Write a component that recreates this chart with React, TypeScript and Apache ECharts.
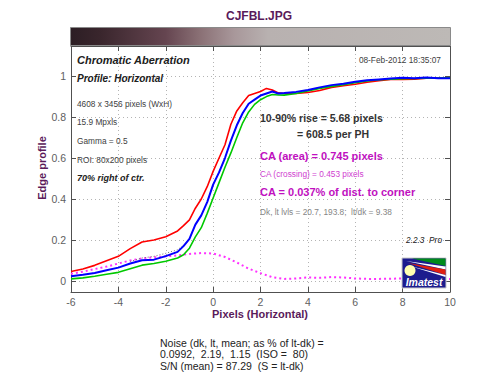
import React, { useEffect, useRef } from 'react';
import * as echarts from 'echarts';

const xVals = [-6, -5.5, -5, -4.5, -4, -3.5, -3, -2.5, -2, -1.5, -1.25, -1, -0.75, -0.5, -0.25, 0, 0.25, 0.5, 0.75, 1, 1.25, 1.5, 1.75, 2, 2.25, 2.5, 2.75, 3, 3.5, 4, 4.5, 5, 5.5, 6, 6.5, 7, 7.5, 8, 8.5, 9, 9.5, 10];
const redVals = [0.046, 0.058, 0.076, 0.098, 0.12, 0.158, 0.19, 0.2, 0.216, 0.244, 0.27, 0.298, 0.355, 0.4, 0.46, 0.535, 0.6, 0.665, 0.765, 0.83, 0.87, 0.905, 0.915, 0.925, 0.94, 0.932, 0.918, 0.915, 0.915, 0.92, 0.93, 0.945, 0.953, 0.96, 0.97, 0.978, 0.984, 0.984, 0.985, 0.99, 0.99, 0.99];
const blueVals = [0.023, 0.03, 0.039, 0.052, 0.065, 0.085, 0.101, 0.104, 0.121, 0.142, 0.17, 0.205, 0.275, 0.32, 0.385, 0.47, 0.53, 0.6, 0.685, 0.76, 0.82, 0.865, 0.885, 0.905, 0.915, 0.925, 0.915, 0.917, 0.923, 0.932, 0.945, 0.956, 0.963, 0.972, 0.98, 0.984, 0.988, 0.992, 0.99, 0.993, 0.99, 0.99];
const greenVals = [0.01, 0.015, 0.023, 0.033, 0.042, 0.06, 0.077, 0.085, 0.096, 0.112, 0.128, 0.16, 0.215, 0.26, 0.33, 0.405, 0.48, 0.555, 0.625, 0.7, 0.772, 0.825, 0.862, 0.885, 0.9, 0.91, 0.908, 0.907, 0.915, 0.928, 0.94, 0.95, 0.958, 0.968, 0.976, 0.982, 0.985, 0.987, 0.988, 0.99, 0.99, 0.992];
const magentaX = [-6, -5.5, -5, -4.5, -4, -3.5, -3, -2.5, -2, -1.5, -1, -0.5, 0, 0.5, 1, 1.5, 2, 2.5, 3, 3.5, 4, 4.5, 5, 5.5, 6, 6.5, 7, 7.5, 8, 8.5, 9, 9.5, 10];
const magentaVals = [0.035, 0.045, 0.058, 0.07, 0.085, 0.1, 0.11, 0.115, 0.12, 0.125, 0.132, 0.136, 0.134, 0.117, 0.09, 0.06, 0.038, 0.018, 0.01, 0.012, 0.017, 0.015, 0.019, 0.017, 0.012, 0.01, 0.01, 0.011, 0.012, 0.011, 0.01, 0.01, 0.01];
const greyX = [-3.5, -3, -2.5, -2, -1.5, -1.25];
const greyVals = [0.095, 0.112, 0.12, 0.135, 0.152, 0.175];
const yTicks = [0, 0.2, 0.4, 0.6, 0.8, 1];

const FONT = 'Liberation Sans';
const PURPLE = '#5a1a5a';
const MAG = '#c010c0';

function pairs(xs: number[], ys: number[]) {
  return xs.map((x, i) => [x, ys[i]]);
}

export default function App() {
  const ref = useRef<HTMLDivElement>(null);
  useEffect(() => {
    const chart = echarts.init(ref.current!, null, { renderer: 'svg' });
    const txt = (x: number, y: number, text: string, o: any = {}, z = 100) => ({
      type: 'text', x, y, z,
      style: { text, fontFamily: FONT, fontSize: 8.3, fill: '#404040', verticalAlign: 'middle', ...o },
    });
    const axisCommon = {
      axisLine: { show: true, onZero: false, lineStyle: { color: '#505050', width: 1 } },
      axisTick: { show: true, inside: true, length: 5, lineStyle: { color: '#505050' } },
    };
    chart.setOption({
      animation: false,
      grid: { left: 71, right: 50, top: 46, bottom: 92, containLabel: false },
      xAxis: [
        {
          type: 'value', min: -6, max: 10, interval: 2, position: 'bottom',
          ...axisCommon,
          axisLabel: { color: '#606060', fontSize: 10.5, fontFamily: FONT, margin: 4 },
          splitLine: { show: true, lineStyle: { color: '#b4b4b4', type: [1, 3], width: 1 } },
        },
        {
          type: 'value', min: -6, max: 10, interval: 2, position: 'top',
          ...axisCommon,
          axisLabel: { show: false }, splitLine: { show: false },
        },
      ],
      yAxis: [
        {
          type: 'value', min: -0.054, max: 1.147, position: 'left',
          ...axisCommon,
          axisTick: { ...axisCommon.axisTick, customValues: yTicks },
          axisLabel: { color: '#606060', fontSize: 10.5, fontFamily: FONT, margin: 5, customValues: yTicks, formatter: (v: number) => String(v) },
          splitLine: { show: true, lineStyle: { color: '#b4b4b4', type: [1, 3], width: 1 } },
        },
        {
          type: 'value', min: -0.054, max: 1.147, position: 'right',
          ...axisCommon,
          axisTick: { ...axisCommon.axisTick, customValues: yTicks },
          axisLabel: { show: false, customValues: yTicks }, splitLine: { show: false },
        },
      ],
      series: [
        { type: 'line', data: pairs(magentaX, magentaVals), showSymbol: false, lineStyle: { color: '#ff30ff', width: 2, type: [2, 3] }, z: 2 },
        { type: 'line', data: pairs(greyX, greyVals), showSymbol: false, lineStyle: { color: '#707070', width: 1, type: [1, 2] }, z: 2 },
        { type: 'line', data: pairs(xVals, redVals), showSymbol: false, lineStyle: { color: '#ff0000', width: 1.6 }, z: 3 },
        { type: 'line', data: pairs(xVals, greenVals), showSymbol: false, lineStyle: { color: '#00c800', width: 1.6 }, z: 3 },
        { type: 'line', data: pairs(xVals, blueVals), showSymbol: false, lineStyle: { color: '#0000ff', width: 2 }, z: 4 },
      ],
      graphic: [
        txt(259, 15.5, 'CJFBL.JPG', { fill: PURPLE, fontSize: 12, fontWeight: 'bold', align: 'center' }),
        {
          type: 'rect', z: 100,
          shape: { x: 70.5, y: 27.5, width: 380, height: 18 },
          style: {
            stroke: '#8a8a8a', lineWidth: 1,
            fill: new echarts.graphic.LinearGradient(0, 0, 1, 0, [
              { offset: 0, color: '#2c1e24' },
              { offset: 0.08, color: '#3a262d' },
              { offset: 0.25, color: '#654550' },
              { offset: 0.34, color: '#8a7075' },
              { offset: 0.43, color: '#a8979a' },
              { offset: 0.52, color: '#b8b1b0' },
              { offset: 1, color: '#bdb9b6' },
            ]),
          },
        },
        {
          type: 'text', x: 42, y: 168, rotation: Math.PI / 2, z: 100,
          style: { text: 'Edge profile', fontFamily: FONT, fontSize: 11, fontWeight: 'bold', fill: PURPLE, align: 'center', verticalAlign: 'middle' },
        },
        txt(260, 314, 'Pixels (Horizontal)', { fill: PURPLE, fontSize: 11, fontWeight: 'bold', align: 'center' }),
        txt(77, 60, 'Chromatic Aberration', { fill: '#202020', fontSize: 11, fontWeight: 'bold', fontStyle: 'italic' }),
        txt(441, 60, '08-Feb-2012 18:35:07', { fill: '#404040', align: 'right' }),
        txt(77, 78, 'Profile: Horizontal', { fill: '#202020', fontSize: 10, fontWeight: 'bold', fontStyle: 'italic' }),
        txt(77, 104, '4608 x 3456 pixels (WxH)'),
        txt(77, 122, '15.9 Mpxls'),
        txt(77, 141, 'Gamma = 0.5'),
        txt(77, 160, 'ROI: 80x200 pixels'),
        txt(77, 177.5, '70% right of ctr.', { fill: '#202020', fontSize: 9, fontWeight: 'bold', fontStyle: 'italic' }),
        txt(260, 118, '10-90% rise = 5.68 pixels', { fill: '#333333', fontSize: 10.5, fontWeight: 'bold' }),
        txt(297, 134, '= 608.5 per PH', { fill: '#333333', fontSize: 10.5, fontWeight: 'bold' }),
        txt(260, 156, 'CA (area) = 0.745 pixels', { fill: MAG, fontSize: 11, fontWeight: 'bold' }),
        txt(260, 173.5, 'CA (crossing) = 0.453 pixels', { fill: '#d040d0', fontSize: 8.3 }),
        txt(260, 191.5, 'CA = 0.037% of dist. to corner', { fill: MAG, fontSize: 11, fontWeight: 'bold' }),
        txt(260, 212, 'Dk, lt lvls = 20.7, 193.8;  lt/dk = 9.38', { fill: '#858585', fontSize: 8.3 }),
        txt(442, 240, '2.2.3  Pro', { fill: '#202020', fontStyle: 'italic', align: 'right' }),
        { type: 'rect', z: 110, shape: { x: 402, y: 258, width: 44, height: 30 }, style: { fill: '#1c1c8e', stroke: '#c8c8c8', lineWidth: 1 } },
        { type: 'polygon', z: 111, shape: { points: [[412, 258.5], [445.5, 258.5], [445.5, 266]] }, style: { fill: '#008a1a' } },
        { type: 'polygon', z: 111, shape: { points: [[406, 261], [445.5, 266.5], [445.5, 269.5]] }, style: { fill: '#ffffff' } },
        { type: 'polygon', z: 111, shape: { points: [[408, 263], [445.5, 269.5], [445.5, 275]] }, style: { fill: '#e02010' } },
        { type: 'polygon', z: 111, shape: { points: [[410, 266], [445.5, 275], [445.5, 277]] }, style: { fill: '#ffffff' } },
        { type: 'circle', z: 112, shape: { cx: 410, cy: 270.5, r: 5.5 }, style: { fill: '#ffffb0' } },
        txt(424, 282, 'Imatest', { fill: '#ffffff', fontSize: 10.5, fontWeight: 'bold', fontStyle: 'italic', align: 'center' }, 113),
        txt(160, 342.5, 'Noise (dk, lt, mean; as % of lt-dk) =', { fill: '#222222', fontSize: 10.5 }),
        txt(160, 354, '0.0992,  2.19,  1.15  (ISO =  80)', { fill: '#222222', fontSize: 10.5 }),
        txt(160, 365.5, 'S/N (mean) = 87.29  (S = lt-dk)', { fill: '#222222', fontSize: 10.5 }),
      ],
    });
    return () => chart.dispose();
  }, []);
  return <div ref={ref} style={{ position: 'fixed', left: 0, top: 0, width: 500, height: 384, background: '#ffffff' }} />;
}
